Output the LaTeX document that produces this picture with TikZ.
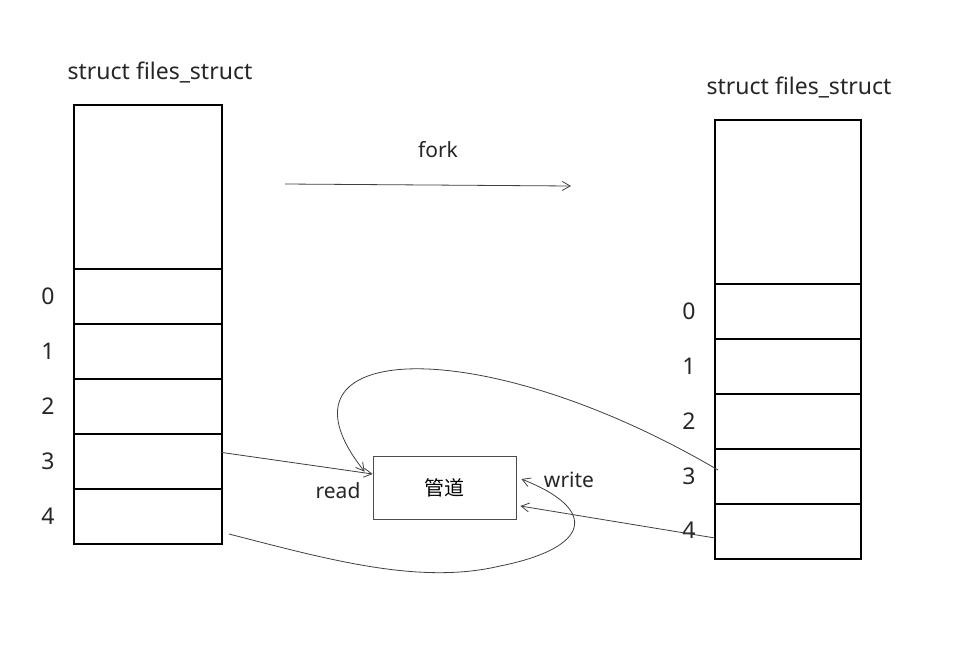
\documentclass[tikz,border=0pt]{standalone}
\usepackage{fontspec}
\setmainfont{Noto Sans}
\newfontfamily\cjk{Noto Sans CJK SC}
\usetikzlibrary{arrows.meta}
\tikzset{
  cellL/.style={draw=black, line width=2pt, minimum width=148pt, minimum height=55pt, inner sep=0pt, outer sep=0pt},
  cellR/.style={draw=black, line width=2pt, minimum width=146pt, minimum height=55pt, inner sep=0pt, outer sep=0pt},
  idx/.style={font=\fontsize{23}{26}\selectfont, text=black!85},
  title/.style={font=\fontsize{23}{26}\selectfont, text=black!85},
  lbl/.style={font=\fontsize{21}{24}\selectfont, text=black!85},
  conn/.style={draw=black!75, line width=0.8pt, -{Straight Barb[length=8pt,width=9pt]}},
}
\begin{document}
\begin{tikzpicture}[x=1pt,y=-1pt]
\useasboundingbox[fill=white] (0,0) rectangle (953,670);
% left table
\node[cellL, minimum height=164pt] (ltop) at (148,187) {};
\node[cellL] (l0) at (148,296.5) {};
\node[cellL] (l1) at (148,351.5) {};
\node[cellL] (l2) at (148,406.5) {};
\node[cellL] (l3) at (148,461.5) {};
\node[cellL] (l4) at (148,516.5) {};
\node[title] (ltitle) at (160,72) {struct files\_struct};
\node[idx] (ln0) at (48,296) {0};
\node[idx] (ln1) at (48,351) {1};
\node[idx] (ln2) at (48,406) {2};
\node[idx] (ln3) at (48,461) {3};
\node[idx] (ln4) at (48,516) {4};
% right table
\node[cellR, minimum height=164pt] (rtop) at (788,202) {};
\node[cellR] (r0) at (788,311.5) {};
\node[cellR] (r1) at (788,366.5) {};
\node[cellR] (r2) at (788,421.5) {};
\node[cellR] (r3) at (788,476.5) {};
\node[cellR] (r4) at (788,531.5) {};
\node[title] (rtitle) at (799,87) {struct files\_struct};
\node[idx] (rn0) at (689,311) {0};
\node[idx] (rn1) at (689,366) {1};
\node[idx] (rn2) at (689,421) {2};
\node[idx] (rn3) at (689,476) {3};
\node[idx] (rn4) at (689,530) {4};
% fork
\node[lbl] (fork) at (438,150) {fork};
\coordinate (fs) at (285,184);
\coordinate (fe) at (571,186);
\draw[conn] (fs) -- (fe);
% pipe
\node[draw=black!70, line width=0.8pt, minimum width=143pt, minimum height=63pt, inner sep=0pt] (pipe) at (444.5,487.5) {\cjk\fontsize{20}{23}\selectfont 管道};
\node[lbl] (read) at (338,491) {read};
\node[lbl] (write) at (569,480) {write};
% connectors
\draw[conn] ([yshift=9pt]l3.east) -- ([yshift=13.5pt]pipe.west);
\draw[conn] ([xshift=3pt,yshift=6.5pt]r3.west) .. controls (480,330) and (260,340) .. ([xshift=-8pt,yshift=-16pt]pipe.north west);
\draw[conn] ([xshift=7pt,yshift=-17.5pt]l4.east) .. controls (330,560) and (420,585) .. (500,566) .. controls (590,548) and (600,510) .. ([xshift=5pt,yshift=8.5pt]pipe.east);
\draw[conn] ([yshift=-6.5pt]r4.west) -- ([xshift=4pt,yshift=-18.5pt]pipe.east);
\end{tikzpicture}
\end{document}
